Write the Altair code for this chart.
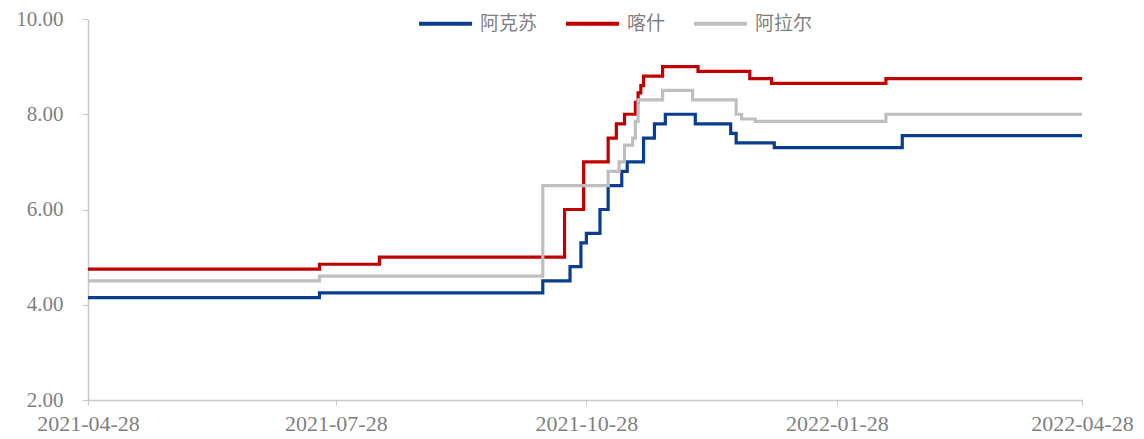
import altair as alt
import pandas as pd

# 阿克苏 change points
dates_aks = ["2021-04-28", "2021-07-22", "2021-10-12", "2021-10-22", "2021-10-26",
             "2021-10-28", "2021-11-02", "2021-11-05", "2021-11-10", "2021-11-12",
             "2021-11-18", "2021-11-22", "2021-11-26", "2021-12-07", "2021-12-20",
             "2021-12-22", "2022-01-05", "2022-02-21", "2022-04-28"]
vals_aks = [4.15, 4.25, 4.5, 4.8, 5.3, 5.5, 6.0, 6.5, 6.8, 7.0, 7.5, 7.8, 8.0,
            7.8, 7.6, 7.4, 7.3, 7.55, 7.55]

# 喀什 change points
dates_ks = ["2021-04-28", "2021-07-22", "2021-08-13", "2021-10-20", "2021-10-27",
            "2021-11-05", "2021-11-08", "2021-11-11", "2021-11-15", "2021-11-16",
            "2021-11-17", "2021-11-18", "2021-11-25", "2021-12-08", "2021-12-27",
            "2022-01-04", "2022-02-15", "2022-04-28"]
vals_ks = [4.75, 4.85, 5.0, 6.0, 7.0, 7.5, 7.8, 8.0, 8.25, 8.45, 8.6, 8.8, 9.0,
           8.9, 8.75, 8.65, 8.75, 8.75]

# 阿拉尔 change points
dates_ale = ["2021-04-28", "2021-07-22", "2021-10-12", "2021-11-05", "2021-11-09",
             "2021-11-11", "2021-11-14", "2021-11-15", "2021-11-16", "2021-11-25",
             "2021-12-06", "2021-12-22", "2021-12-24", "2021-12-29", "2022-02-15",
             "2022-04-28"]
vals_ale = [4.5, 4.6, 6.5, 6.8, 7.0, 7.35, 7.5, 7.85, 8.3, 8.5, 8.3, 8.0, 7.9,
            7.85, 8.0, 8.0]

series_names = ["阿克苏", "喀什", "阿拉尔"]
series_colors = ["#0A3D8F", "#C00000", "#BFBFBF"]
x_ticks = ["2021-04-28", "2021-07-28", "2021-10-28", "2022-01-28", "2022-04-28"]
y_ticks = [2, 4, 6, 8, 10]

frames = []
for name, ds, vs in zip(series_names, [dates_aks, dates_ks, dates_ale],
                        [vals_aks, vals_ks, vals_ale]):
    frames.append(pd.DataFrame({"date": ds, "value": vs, "series": name}))
df = pd.concat(frames, ignore_index=True)


def dt(s):
    y, m, d = (int(p) for p in s.split("-"))
    return alt.DateTime(year=y, month=m, date=d, utc=True)


label_color = "#7F7F7F"
axis_color = "#C8C8C8"

chart = alt.Chart(df).mark_line(
    interpolate="step-after", strokeWidth=3.2
).encode(
    x=alt.X(
        "date:T",
        scale=alt.Scale(type="utc", domain=[dt(x_ticks[0]), dt(x_ticks[-1])]),
        axis=alt.Axis(
            title=None, values=[dt(t) for t in x_ticks],
            labelExpr="utcFormat(datum.value, '%Y-%m-%d')",
            grid=False, labelFont="Liberation Serif",
            labelFontSize=22, labelColor=label_color, domainColor=axis_color,
            tickColor=axis_color, tickSize=5, labelPadding=8, domainWidth=1.5,
            labelFlush=False, labelOverlap=False,
        ),
    ),
    y=alt.Y(
        "value:Q",
        scale=alt.Scale(domain=[2, 10], nice=False, zero=False),
        axis=alt.Axis(
            title=None, values=y_ticks, format=".2f", grid=False,
            labelFont="Liberation Serif", labelFontSize=21,
            labelColor=label_color, domainColor=axis_color, tickColor=axis_color,
            tickSize=6, labelPadding=19, domainWidth=1.5,
        ),
    ),
    color=alt.Color(
        "series:N",
        scale=alt.Scale(domain=series_names, range=series_colors),
        legend=alt.Legend(
            title=None, orient="none", legendX=329, legendY=-24,
            direction="horizontal", symbolType="stroke", symbolSize=2800,
            symbolStrokeWidth=4, labelFont="Noto Sans CJK SC", labelFontSize=19,
            labelColor=label_color, labelOffset=6, columnPadding=20, padding=0,
        ),
    ),
    order=alt.Order("date:T"),
).properties(
    width=994, height=381,
    autosize=alt.AutoSizeParams(type="none"),
    padding={"left": 80, "top": 11, "right": 54, "bottom": 39},
).configure_view(stroke=None)

chart.save("out.html", embed_options={"renderer": "svg", "actions": False})
